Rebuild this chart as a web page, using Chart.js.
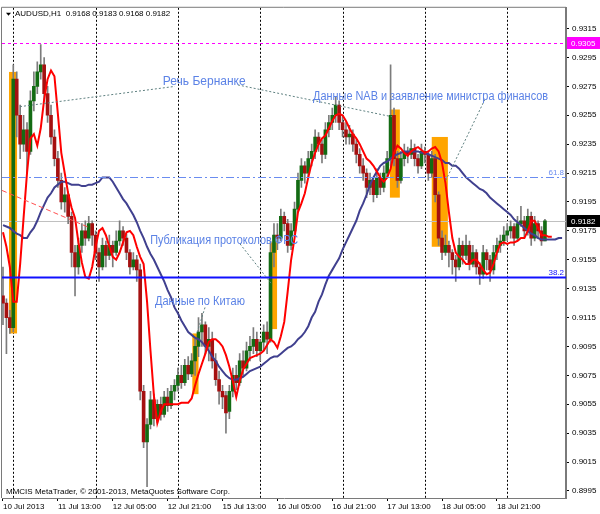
<!DOCTYPE html>
<html>
<head>
<meta charset="utf-8">
<script src="https://cdn.jsdelivr.net/npm/chart.js@4.4.0/dist/chart.umd.min.js"></script>
<style>html,body{margin:0;padding:0;background:#fff}canvas{display:block}</style>
</head>
<body>
<canvas id="myChart" width="600" height="514"></canvas>
<script>
// AUDUSD H1, one entry per hourly bar (bar 0 = 10 Jul 21:00)
const opens = [.9130,.9125,.9115,.9108,.9280,.9255,.9235,.9245,.9230,.9265,
  .9275,.9285,.9290,.9270,.9255,.9240,.9225,.9210,.9195,.9200,
  .9185,.9160,.9150,.9165,.9175,.9170,.9180,.9172,.9160,.9150,
  .9165,.9158,.9165,.9160,.9168,.9175,.9170,.9160,.9150,.9155,
  .9148,.9064,.9029,.9041,.9058,.9045,.9055,.9048,.9060,.9054,
  .9064,.9068,.9075,.9070,.9082,.9076,.9085,.9095,.9105,.9110,
  .9095,.9100,.9085,.9072,.9064,.9061,.9050,.9064,.9075,.9070,
  .9085,.9080,.9092,.9095,.9100,.9092,.9098,.9105,.9100,.9160,
  .9172,.9170,.9185,.9180,.9165,.9175,.9190,.9210,.9220,.9215,
  .9225,.9230,.9240,.9235,.9228,.9245,.9250,.9255,.9262,.9250,
  .9245,.9240,.9242,.9235,.9228,.9220,.9215,.9205,.9210,.9200,
  .9212,.9205,.9215,.9225,.9255,.9225,.9210,.9225,.9230,.9228,
  .9232,.9225,.9220,.9230,.9228,.9215,.9225,.9200,.9170,.9160,
  .9165,.9160,.9155,.9150,.9165,.9158,.9165,.9152,.9160,.9150,
  .9145,.9160,.9155,.9148,.9160,.9165,.9168,.9172,.9175,.9178,
  .9170,.9180,.9182,.9175,.9185,.9170,.9180,.9175,.9168];
const highs = [.9150,.9128,.9120,.9290,.9285,.9262,.9255,.9250,.9272,.9285,
  .9292,.9304,.9295,.9275,.9262,.9245,.9230,.9215,.9205,.9202,
  .9188,.9165,.9170,.9180,.9182,.9185,.9182,.9175,.9163,.9170,
  .9168,.9172,.9168,.9175,.9182,.9178,.9173,.9162,.9160,.9158,
  .9152,.9068,.9045,.9064,.9062,.9058,.9060,.9064,.9066,.9068,
  .9072,.9080,.9082,.9086,.9088,.9090,.9100,.9115,.9118,.9112,
  .9108,.9105,.9090,.9078,.9068,.9064,.9068,.9080,.9082,.9090,
  .9092,.9098,.9102,.9108,.9105,.9100,.9110,.9112,.9168,.9180,
  .9180,.9190,.9188,.9183,.9180,.9195,.9215,.9225,.9223,.9230,
  .9235,.9245,.9243,.9238,.9250,.9255,.9260,.9268,.9265,.9255,
  .9250,.9248,.9245,.9238,.9232,.9225,.9218,.9215,.9212,.9218,
  .9215,.9220,.9230,.9290,.9260,.9230,.9230,.9235,.9233,.9238,
  .9235,.9228,.9235,.9233,.9230,.9230,.9228,.9202,.9175,.9172,
  .9168,.9162,.9158,.9170,.9168,.9172,.9168,.9165,.9162,.9153,
  .9165,.9162,.9158,.9165,.9170,.9172,.9178,.9180,.9182,.9180,
  .9185,.9192,.9185,.9190,.9188,.9185,.9182,.9178,.9183];
const lows = [.9110,.9090,.9104,.9105,.9240,.9225,.9230,.9215,.9228,.9258,
  .9270,.9280,.9265,.9250,.9235,.9220,.9205,.9190,.9188,.9180,
  .9150,.9130,.9145,.9160,.9165,.9168,.9165,.9155,.9140,.9148,
  .9150,.9155,.9150,.9158,.9165,.9165,.9155,.9145,.9148,.9140,
  .9058,.9025,.8998,.9038,.9040,.9042,.9044,.9046,.9050,.9052,
  .9058,.9064,.9066,.9068,.9072,.9074,.9075,.9088,.9095,.9090,
  .9085,.9080,.9068,.9055,.9052,.9035,.9045,.9060,.9065,.9068,
  .9075,.9078,.9085,.9090,.9088,.9085,.9092,.9090,.9098,.9150,
  .9162,.9168,.9175,.9160,.9162,.9172,.9188,.9205,.9208,.9212,
  .9220,.9225,.9230,.9222,.9225,.9240,.9245,.9250,.9245,.9240,
  .9235,.9235,.9230,.9222,.9215,.9210,.9198,.9200,.9195,.9198,
  .9200,.9202,.9212,.9220,.9220,.9205,.9208,.9220,.9222,.9225,
  .9220,.9215,.9218,.9222,.9210,.9212,.9195,.9165,.9155,.9158,
  .9150,.9145,.9140,.9148,.9152,.9155,.9148,.9150,.9145,.9138,
  .9142,.9148,.9140,.9145,.9155,.9160,.9165,.9168,.9170,.9165,
  .9168,.9178,.9170,.9172,.9165,.9168,.9170,.9165,.9168];
const closes = [.9125,.9115,.9108,.9280,.9255,.9235,.9245,.9230,.9265,.9275,
  .9285,.9290,.9270,.9255,.9240,.9225,.9210,.9195,.9200,.9185,
  .9160,.9150,.9165,.9175,.9170,.9180,.9172,.9160,.9150,.9165,
  .9158,.9165,.9160,.9168,.9175,.9170,.9160,.9150,.9155,.9148,
  .9064,.9029,.9041,.9058,.9045,.9055,.9048,.9060,.9054,.9064,
  .9068,.9075,.9070,.9082,.9076,.9085,.9095,.9105,.9110,.9095,
  .9100,.9085,.9072,.9064,.9060,.9049,.9064,.9075,.9070,.9085,
  .9080,.9092,.9095,.9100,.9092,.9098,.9105,.9100,.9160,.9172,
  .9170,.9185,.9180,.9165,.9175,.9190,.9210,.9220,.9215,.9225,
  .9230,.9240,.9235,.9228,.9245,.9250,.9255,.9262,.9250,.9245,
  .9240,.9242,.9235,.9228,.9220,.9215,.9205,.9210,.9200,.9212,
  .9205,.9215,.9225,.9255,.9225,.9210,.9225,.9230,.9228,.9232,
  .9225,.9220,.9230,.9228,.9215,.9225,.9200,.9170,.9160,.9165,
  .9160,.9155,.9150,.9165,.9158,.9165,.9152,.9160,.9150,.9145,
  .9160,.9155,.9148,.9160,.9165,.9168,.9172,.9175,.9178,.9170,
  .9180,.9182,.9175,.9185,.9170,.9180,.9175,.9168,.9182];

// moving averages as drawn (already shifted forward)
const maFast = [.9174,.9164,.9150,.9126,.9126,.9152,.9184,.9215,.9239,.9242,
  .9234,.9246,.9266,.9280,.9286,.9282,.9256,.9229,.9215,.9201,
  .9191,.9184,.9167,.9153,.9143,.9142,.9150,.9164,.9175,.9177,
  .9172,.9164,.9157,.9155,.9160,.9167,.9174,.9175,.9172,.9164,
  .9157,.9152,.9126,.9092,.9061,.9042,.9050,.9055,.9055,.9055,
  .9055,.9055,.9056,.9056,.9056,.9059,.9068,.9076,.9083,.9090,
  .9098,.9100,.9100,.9098,.9095,.9089,.9081,.9071,.9060,.9071,
  .9079,.9083,.9087,.9088,.9089,.9090,.9092,.9096,.9100,.9098,
  .9094,.9102,.9112,.9133,.9155,.9170,.9188,.9194,.9201,.9212,
  .9222,.9229,.9235,.9239,.9241,.9246,.9251,.9255,.9256,.9255,
  .9251,.9246,.9242,.9239,.9235,.9230,.9225,.9223,.9220,.9216,
  .9212,.9209,.9212,.9218,.9229,.9234,.9232,.9229,.9227,.9230,
  .9232,.9233,.9231,.9229,.9230,.9232,.9233,.9230,.9222,.9208,
  .9188,.9170,.9160,.9157,.9155,.9152,.9152,.9155,.9155,.9152,
  .9148,.9145,.9146,.9152,.9160,.9166,.9167,.9166,.9167,.9167,
  .9168,.9170,.9170,.9175,.9182,.9182,.9177,.9172,.9172,.9171,.9171];
const maSlow = [.9179,.9178,.9177,.9175,.9173,.9172,.9170,.9170,.9174,.9177,
  .9182,.9188,.9193,.9198,.9201,.9205,.9207,.9209,.9209,.9208,
  .9207,.9207,.9207,.9206,.9206,.9207,.9207,.9208,.9209,.9212,
  .9212,.9212,.9209,.9205,.9201,.9197,.9194,.9190,.9186,.9181,
  .9175,.9170,.9164,.9159,.9155,.9150,.9145,.9140,.9134,.9129,
  .9122,.9118,.9113,.9109,.9105,.9103,.9101,.9100,.9098,.9095,
  .9092,.9088,.9085,.9081,.9078,.9075,.9073,.9072,.9072,.9073,
  .9074,.9076,.9078,.9079,.9080,.9081,.9083,.9085,.9087,.9088,
  .9088,.9090,.9092,.9094,.9095,.9097,.9100,.9102,.9105,.9109,
  .9115,.9119,.9126,.9131,.9138,.9144,.9148,.9152,.9156,.9162,
  .9167,.9172,.9177,.9182,.9189,.9194,.9200,.9207,.9212,.9216,
  .9220,.9222,.9223,.9225,.9227,.9228,.9229,.9230,.9230,.9230,
  .9230,.9230,.9229,.9229,.9228,.9227,.9226,.9225,.9224,.9222,
  .9222,.9220,.9220,.9218,.9215,.9212,.9210,.9208,.9206,.9204,
  .9203,.9201,.9198,.9196,.9194,.9192,.9190,.9188,.9186,.9183,
  .9181,.9179,.9177,.9175,.9173,.9172,.9170,.9169,.9169,.9169,
  .9169,.9169,.9170,.9170];

const timeLabels = ['10 Jul 2013','11 Jul 13:00','12 Jul 05:00','12 Jul 21:00','15 Jul 13:00',
  '16 Jul 05:00','16 Jul 21:00','17 Jul 13:00','18 Jul 05:00','18 Jul 21:00'];
const timeLabelBars = [0,16,32,48,64,80,96,112,128,144];
const dayStartBars = [3,27,51,75,99,123,147];
const priceTicks = ['0.9315','0.9295','0.9275','0.9255','0.9235','0.9215','0.9195','0.9175','0.9155',
  '0.9135','0.9115','0.9095','0.9075','0.9055','0.9035','0.9015','0.8995'];

const alertPrice = 0.9305;
const bidPrice = 0.9182;
const fibLevels = [{label: '61.8', price: 0.9212}, {label: '38.2', price: 0.9143}];
const fibBase = [[-0.3, 0.9203], [25.4, 0.9177]];
// highlighted news bars: [fromBar, toBar, top, bottom]
const newsBoxes = [[1.75, 4.1, 0.9285, 0.9104], [55.2, 57.0, 0.9104, 0.9062],
  [77.8, 79.9, 0.9167, 0.9107], [112.8, 115.7, 0.9259, 0.9198], [125.0, 129.7, 0.9240, 0.9164]];
const notes = [
  {text: 'Речь Бернанке', bar: 46.6, price: 0.9278},
  {text: 'Данные NAB и заявление министра финансов', bar: 90.4, price: 0.9268},
  {text: 'Публикация протоколов ФРС', bar: 42.9, price: 0.9168},
  {text: 'Данные по Китаю', bar: 44.3, price: 0.9126}
];
const noteLinks = [[4.96, 0.9261, 50.1, 0.9275], [68.5, 0.9276, 113.4, 0.9254],
  [140.5, 0.9266, 128.9, 0.9209], [69.1, 0.9166, 78.4, 0.9138], [58.9, 0.9122, 56.5, 0.9104]];

const header = 'AUDUSD,H1  0.9168 0.9183 0.9168 0.9182';
const footer = 'MMCIS MetaTrader, \u00a9 2001-2013, MetaQuotes Software Corp.';

// text box widths used to squeeze the captions like the terminal font does
const noteWidths = [87, 235, 148, 90];

let wickData = opens.map((o, i) => ({x: i, y: [lows[i], highs[i]]}));
let bodyData = opens.map((o, i) => ({x: i, y: [o, closes[i]]}));
let bodyColors = opens.map((o, i) => closes[i] >= o ? '#136b13' : '#a51010');

const mtExtras = {
  id: 'mtExtras',
  beforeDatasetsDraw(chart) {
    const {ctx, chartArea: a, scales: {x, y}} = chart;
    ctx.save();
    ctx.beginPath();
    ctx.rect(a.left, a.top, a.right - a.left, a.bottom - a.top);
    ctx.clip();
    // day separators
    ctx.strokeStyle = '#000';
    ctx.lineWidth = 1;
    ctx.setLineDash([2, 2]);
    dayStartBars.forEach(d => {
      let px = Math.round(x.getPixelForValue(d)) + 0.5;
      ctx.beginPath(); ctx.moveTo(px, a.top); ctx.lineTo(px, a.bottom); ctx.stroke();
    });
    ctx.setLineDash([]);
    ctx.fillStyle = '#ffa500';
    newsBoxes.forEach(b => {
      const x0 = x.getPixelForValue(b[0]), x1 = x.getPixelForValue(b[1]);
      const y0 = y.getPixelForValue(b[2]), y1 = y.getPixelForValue(b[3]);
      ctx.fillRect(x0, y0, x1 - x0, y1 - y0);
    });
    ctx.strokeStyle = '#c0c0c0';
    let py = Math.round(y.getPixelForValue(bidPrice)) + 0.5;
    ctx.beginPath(); ctx.moveTo(a.left, py); ctx.lineTo(a.right, py); ctx.stroke();
    ctx.restore();
  },
  afterDatasetsDraw(chart) {
    const {ctx, chartArea: a, scales: {x, y}} = chart;
    ctx.save();
    ctx.beginPath();
    ctx.rect(a.left, a.top, a.right - a.left, a.bottom - a.top);
    ctx.clip();

    // alert line
    ctx.strokeStyle = '#ff00ff';
    ctx.setLineDash([3, 3]);
    let py = Math.round(y.getPixelForValue(alertPrice)) + 0.5;
    ctx.beginPath(); ctx.moveTo(a.left, py); ctx.lineTo(a.right, py); ctx.stroke();

    // fibo base line
    ctx.strokeStyle = '#ff5050';
    ctx.setLineDash([5, 3]);
    ctx.beginPath();
    ctx.moveTo(x.getPixelForValue(fibBase[0][0]), y.getPixelForValue(fibBase[0][1]));
    ctx.lineTo(x.getPixelForValue(fibBase[1][0]), y.getPixelForValue(fibBase[1][1]));
    ctx.stroke();

    // fibo levels
    ctx.font = '8px "Liberation Sans", Arial, sans-serif';
    ctx.textAlign = 'right';
    ctx.textBaseline = 'bottom';
    fibLevels.forEach((f, i) => {
      let fy = Math.round(y.getPixelForValue(f.price)) + 0.5;
      if (i == 0) {
        ctx.strokeStyle = '#6a8cf0'; ctx.lineWidth = 1; ctx.setLineDash([8, 3, 2, 3]);
      } else {
        ctx.strokeStyle = '#1010ff'; ctx.lineWidth = 2; ctx.setLineDash([]);
      }
      ctx.beginPath(); ctx.moveTo(a.left, fy); ctx.lineTo(a.right, fy); ctx.stroke();
      ctx.fillStyle = i == 0 ? '#6a8cf0' : '#1010ff';
      ctx.fillText(f.label, a.right - 2, fy - 1);
    });

    // news links and captions
    ctx.strokeStyle = '#5f8080';
    ctx.lineWidth = 1;
    ctx.setLineDash([2, 2]);
    noteLinks.forEach(l => {
      ctx.beginPath();
      ctx.moveTo(x.getPixelForValue(l[0]), y.getPixelForValue(l[1]));
      ctx.lineTo(x.getPixelForValue(l[2]), y.getPixelForValue(l[3]));
      ctx.stroke();
    });
    ctx.setLineDash([]);
    ctx.font = '12px "Liberation Sans", Arial, sans-serif';
    ctx.textAlign = 'left';
    ctx.textBaseline = 'middle';
    ctx.fillStyle = '#5b82e6';
    notes.forEach((n, i) => ctx.fillText(n.text, x.getPixelForValue(n.bar), y.getPixelForValue(n.price), noteWidths[i]));

    // header and footer
    ctx.fillStyle = '#000';
    ctx.font = '8px "Liberation Sans", Arial, sans-serif';
    ctx.fillText(header, a.left + 13, a.top + 6, 157);
    ctx.fillText(footer, a.left + 4, a.bottom - 6, 229);
    ctx.beginPath();
    ctx.moveTo(a.left + 4, a.top + 5); ctx.lineTo(a.left + 9, a.top + 5); ctx.lineTo(a.left + 6.5, a.top + 8);
    ctx.closePath(); ctx.fill();
    ctx.restore();
  },
  afterDraw(chart) {
    const {ctx, chartArea: a, scales: {y}} = chart;
    ctx.save();
    ctx.strokeStyle = '#7a7a7a';
    ctx.lineWidth = 1;
    ctx.beginPath();
    ctx.moveTo(a.left - 0.5, a.bottom); ctx.lineTo(a.left - 0.5, a.top - 0.5); ctx.lineTo(a.right, a.top - 0.5);
    ctx.stroke();
    // price tags on the axis
    ctx.font = '8px "Liberation Sans", Arial, sans-serif';
    ctx.textBaseline = 'middle';
    ctx.textAlign = 'left';
    [[alertPrice, '#ff00ff'], [bidPrice, '#000000']].forEach(t => {
      let ty = Math.round(y.getPixelForValue(t[0]));
      ctx.fillStyle = t[1];
      ctx.fillRect(a.right + 1, ty - 6, 600 - a.right - 1, 12);
      ctx.fillStyle = '#fff';
      ctx.fillText(t[0].toFixed(4), a.right + 5, ty + 0.5);
    });
    ctx.restore();
  }
};

let ctx = document.getElementById('myChart').getContext('2d');
let chart = new Chart(ctx, {
  type: 'bar',
  data: {
    datasets: [{
      type: 'line',
      data: maFast.map((v, i) => ({x: i, y: v})),
      borderColor: '#ff0000',
      borderWidth: 2,
      pointRadius: 0,
      tension: 0
    }, {
      type: 'line',
      data: maSlow.map((v, i) => ({x: i, y: v})),
      borderColor: '#40408f',
      borderWidth: 2,
      pointRadius: 0,
      tension: 0
    }, {
      data: bodyData,
      backgroundColor: bodyColors,
      barThickness: 3,
      minBarLength: 1,
      grouped: false
    }, {
      data: wickData,
      backgroundColor: '#7c7c7c',
      barThickness: 1,
      grouped: false
    }]
  },
  options: {
    responsive: false,
    animation: false,
    devicePixelRatio: 1,
    layout: {padding: {left: 2, top: 3, right: 0, bottom: 0}},
    plugins: {legend: {display: false}, tooltip: {enabled: false}},
    scales: {
      x: {
        type: 'linear',
        min: -0.29,
        max: 164.14,
        offset: false,
        afterBuildTicks: s => { s.ticks = timeLabelBars.map(v => ({value: v})); },
        afterFit: s => { s.height = 16; },
        grid: {drawOnChartArea: false, tickLength: 3, color: '#000', offset: false},
        border: {color: '#7a7a7a'},
        ticks: {
          callback: (v, i) => timeLabels[i],
          align: 'start', maxRotation: 0, autoSkip: false, padding: 1,
          color: '#000', font: {family: '"Liberation Sans", Arial, sans-serif', size: 8}
        }
      },
      y: {
        position: 'right',
        min: 0.89901,
        max: 0.93294,
        afterBuildTicks: s => { s.ticks = priceTicks.map(v => ({value: +v})); },
        afterFit: s => { s.width = 34; },
        grid: {drawOnChartArea: false, tickLength: 3, color: '#000'},
        border: {color: '#7a7a7a', width: 2},
        ticks: {
          callback: (v, i) => priceTicks[i],
          padding: 3, color: '#000', autoSkip: false,
          font: {family: '"Liberation Sans", Arial, sans-serif', size: 8}
        }
      }
    }
  },
  plugins: [mtExtras]
});
</script>
</body>
</html>
